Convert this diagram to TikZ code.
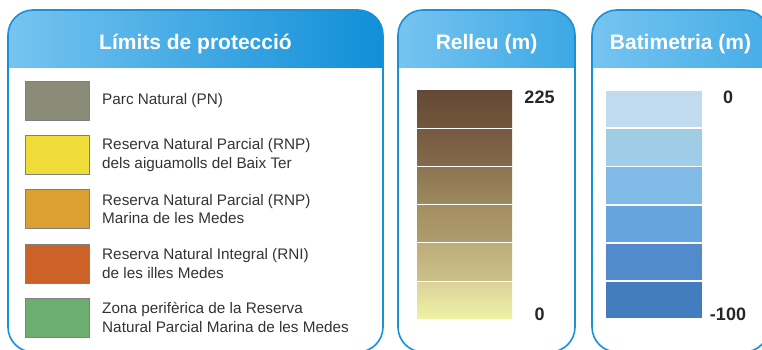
\documentclass[tikz,border=0pt]{standalone}
\usepackage{fontspec}
\setmainfont{Liberation Sans}
\usetikzlibrary{positioning}
\definecolor{framblue}{HTML}{1A90D8}
\definecolor{headlight}{HTML}{76C4F0}
\definecolor{headdark1}{HTML}{108FD8}
\definecolor{headdark2}{HTML}{3CA8E5}
\definecolor{headdark3}{HTML}{45ADE6}
\definecolor{txtgray}{HTML}{333333}
\definecolor{boxgray}{HTML}{808080}
% legend colours
\definecolor{pngray}{HTML}{8A8C77}
\definecolor{rnpyellow}{HTML}{F0DC38}
\definecolor{rnporange}{HTML}{DCA032}
\definecolor{rnired}{HTML}{CC6228}
\definecolor{zpgreen}{HTML}{6CAE6F}
% relleu colours
\definecolor{rela}{HTML}{654838}
\definecolor{relb}{HTML}{73573A}
\definecolor{relc}{HTML}{775A41}
\definecolor{reld}{HTML}{836A4B}
\definecolor{rele}{HTML}{8C7450}
\definecolor{relf}{HTML}{9C895F}
\definecolor{relg}{HTML}{A48F63}
\definecolor{relh}{HTML}{AE9C6C}
\definecolor{reli}{HTML}{BCAD7A}
\definecolor{relj}{HTML}{CCC08A}
\definecolor{relk}{HTML}{DCD29A}
\definecolor{rell}{HTML}{EEF2A6}
% batimetria colours
\definecolor{bata}{HTML}{C2DAED}
\definecolor{batb}{HTML}{A0CDE0}
\definecolor{batc}{HTML}{9FCDEC}
\definecolor{batd}{HTML}{80BBE8}
\definecolor{bate}{HTML}{66A4DD}
\definecolor{batf}{HTML}{528BCB}
\definecolor{batg}{HTML}{437DC0}
\tikzset{
  panel/.style={draw=framblue, line width=1.6pt, rounded corners=25pt},
  heading/.style={text=white, font=\fontsize{21}{25}\selectfont\bfseries, anchor=base, inner sep=0pt},
  legbox/.style={draw=boxgray, line width=0.8pt, minimum width=64pt, minimum height=39pt, inner sep=0pt, outer sep=0pt},
  legtext/.style={text=txtgray, font=\fontsize{15.3}{18.6}\selectfont, align=left, inner sep=0pt},
  bar/.style={minimum width=95pt, minimum height=36.2pt, inner sep=0pt, outer sep=0pt},
  scalelbl/.style={text=black!85, font=\fontsize{18}{20}\selectfont\bfseries, anchor=base, inner sep=0pt},
}
\begin{document}
\begin{tikzpicture}[x=1pt, y=-1pt]
		\useasboundingbox (0,0) rectangle (762,350);
		\clip (0,0) rectangle (762,350);
		
		% panels and their headers
		\begin{scope}
			\clip[rounded corners=25pt] (8,10) rectangle (383,352);
			\shade[left color=headlight, right color=headdark1] (8,10) rectangle (383,68);
		\end{scope}
		\begin{scope}
			\clip[rounded corners=25pt] (398,10) rectangle (575,352);
			\shade[left color=headlight, right color=headdark2] (398,10) rectangle (575,68);
		\end{scope}
		\begin{scope}
			\clip[rounded corners=25pt] (592,10) rectangle (769,352);
			\shade[left color=headlight, right color=headdark3] (592,10) rectangle (769,68);
		\end{scope}
		\draw[panel] (8,10) rectangle (383,352);
		\draw[panel] (398,10) rectangle (575,352);
		\draw[panel] (592,10) rectangle (769,352);
		
		\node[heading] (t1) at (195.5,50) {Límits de protecció};
		\node[heading] (t2) at (486.5,50) {Relleu (m)};
		\node[heading] (t3) at (680.5,50) {Batimetria (m)};
		
		% legend
		\node[legbox, fill=pngray] (1) at (57,100.5) {};
		\node[legtext, right=13pt of 1] (1c) {Parc Natural (PN)};
		\node[legbox, fill=rnpyellow, below=15.3pt of 1] (2) {};
		\node[legtext, right=13pt of 2] (2c) {Reserva Natural Parcial (RNP)\\dels aiguamolls del Baix Ter};
		\node[legbox, fill=rnporange, below=15.3pt of 2] (3) {};
		\node[legtext, right=13pt of 3] (3c) {Reserva Natural Parcial (RNP)\\Marina de les Medes};
		\node[legbox, fill=rnired, below=15.3pt of 3] (4) {};
		\node[legtext, right=13pt of 4] (4c) {Reserva Natural Integral (RNI)\\de les illes Medes};
		\node[legbox, fill=zpgreen, below=15.3pt of 4] (5) {};
		\node[legtext, right=13pt of 5] (5c) {Zona perifèrica de la Reserva\\Natural Parcial Marina de les Medes};
		
		% relleu
		\node[bar, top color=rela, bottom color=relb] (r1) at (464.5,109.1) {};
		\node[bar, top color=relc, bottom color=reld, below=2pt of r1] (r2) {};
		\node[bar, top color=rele, bottom color=relf, below=2pt of r2] (r3) {};
		\node[bar, top color=relg, bottom color=relh, below=2pt of r3] (r4) {};
		\node[bar, top color=reli, bottom color=relj, below=2pt of r4] (r5) {};
		\node[bar, top color=relk, bottom color=rell, below=2pt of r5] (r6) {};
		\node[scalelbl] (r1c) at (539.5,104) {225};
		\node[scalelbl] (r6c) at (539.5,320) {0};
		
		% batimetria
		\node[bar, minimum width=96pt, fill=bata] (b1) at (654,109.1) {};
		\node[bar, minimum width=96pt, top color=batb, bottom color=batc, below=2pt of b1] (b2) {};
		\node[bar, minimum width=96pt, fill=batd, below=2pt of b2] (b3) {};
		\node[bar, minimum width=96pt, fill=bate, below=2pt of b3] (b4) {};
		\node[bar, minimum width=96pt, fill=batf, below=2pt of b4] (b5) {};
		\node[bar, minimum width=96pt, fill=batg, below=2pt of b5] (b6) {};
		\node[scalelbl] (b1c) at (728,104) {0};
		\node[scalelbl] (b6c) at (728,320) {-100};
	\end{tikzpicture}
\end{document}
